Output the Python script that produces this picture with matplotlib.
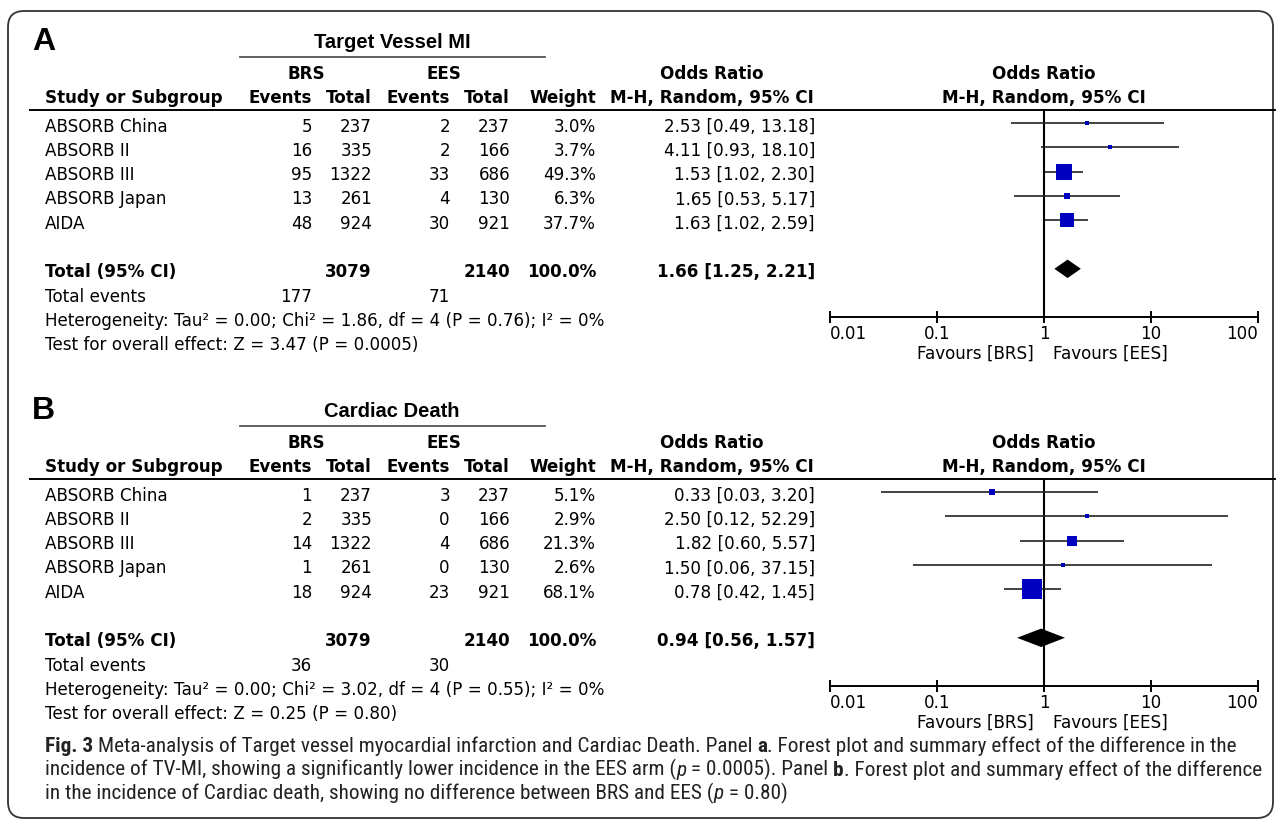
"""Forest plots (RevMan style) for TV-MI and cardiac death, BRS vs EES."""
import matplotlib
matplotlib.use("Agg")
import matplotlib.pyplot as plt
from matplotlib.patches import FancyBboxPatch

W, H = 1281, 824

# ---- data -------------------------------------------------------------
studies = ["ABSORB China", "ABSORB II", "ABSORB III", "ABSORB Japan", "AIDA"]

tvmi_brs_events = [5, 16, 95, 13, 48]
tvmi_brs_total = [237, 335, 1322, 261, 924]
tvmi_ees_events = [2, 2, 33, 4, 30]
tvmi_ees_total = [237, 166, 686, 130, 921]
tvmi_weight = [3.0, 3.7, 49.3, 6.3, 37.7]
tvmi_or = [2.53, 4.11, 1.53, 1.65, 1.63]
tvmi_lo = [0.49, 0.93, 1.02, 0.53, 1.02]
tvmi_hi = [13.18, 18.10, 2.30, 5.17, 2.59]
tvmi_pooled = [1.66, 1.25, 2.21]
tvmi_sum_total = [3079, 2140]
tvmi_sum_events = [177, 71]
tvmi_het = "Heterogeneity: Tau² = 0.00; Chi² = 1.86, df = 4 (P = 0.76); I² = 0%"
tvmi_test = "Test for overall effect: Z = 3.47 (P = 0.0005)"

cd_brs_events = [1, 2, 14, 1, 18]
cd_brs_total = [237, 335, 1322, 261, 924]
cd_ees_events = [3, 0, 4, 0, 23]
cd_ees_total = [237, 166, 686, 130, 921]
cd_weight = [5.1, 2.9, 21.3, 2.6, 68.1]
cd_or = [0.33, 2.50, 1.82, 1.50, 0.78]
cd_lo = [0.03, 0.12, 0.60, 0.06, 0.42]
cd_hi = [3.20, 52.29, 5.57, 37.15, 1.45]
cd_pooled = [0.94, 0.56, 1.57]
cd_sum_total = [3079, 2140]
cd_sum_events = [36, 30]
cd_het = "Heterogeneity: Tau² = 0.00; Chi² = 3.02, df = 4 (P = 0.55); I² = 0%"
cd_test = "Test for overall effect: Z = 0.25 (P = 0.80)"

or_ticks = [0.01, 0.1, 1, 10, 100]
or_ticklabels = ["0.01", "0.1", "1", "10", "100"]

caption_lines = [
    [("Fig. 3", "bold", True),
     ("Meta-analysis of Target vessel myocardial infarction and Cardiac Death. Panel", "normal", True),
     ("a", "bold", False),
     (". Forest plot and summary effect of the difference in the", "normal", False)],
    [("incidence of TV-MI, showing a significantly lower incidence in the EES arm (", "normal", False),
     ("p", "italic", False),
     (" = 0.0005). Panel", "normal", True),
     ("b", "bold", False),
     (". Forest plot and summary effect of the difference", "normal", False)],
    [("in the incidence of Cardiac death, showing no difference between BRS and EES (", "normal", False),
     ("p", "italic", False),
     (" = 0.80)", "normal", False)],
]

# ---- layout (pixels) --------------------------------------------------
TABLE_FONT = "DejaVu Sans"
HEAD_FONT = "Liberation Sans"
CAP_FONT = ["Roboto Condensed", "Liberation Sans Narrow", "Roboto", "DejaVu Sans"]
FS = 12.1

COL_NAME = 45
COL_BRS_EV, COL_BRS_N = 312, 372
COL_EES_EV, COL_EES_N = 450, 510
COL_W = 596
COL_OR = 815
OR_HEAD_C = 712
F_LEFT, F_RIGHT, F_MID = 830, 1258, 1044
ROW0, ROW_H = 123, 24.3
BLUE = "#0000c0"

fig = plt.figure(figsize=(W / 100, H / 100), dpi=100)
ov = fig.add_axes([0, 0, 1, 1])
ov.set_xlim(0, W)
ov.set_ylim(H, 0)
ov.axis("off")


def put(x, y, s, ha="left", bold=False, size=FS, family=TABLE_FONT, color="black"):
    return ov.text(x, y, s, ha=ha, va="baseline", fontsize=size, family=family,
                   fontweight="bold" if bold else "normal", color=color)


def draw_panel(y0, letter, title, brs_ev, brs_n, ees_ev, ees_n, weight,
               est, lo, hi, pooled, sum_total, sum_events, het, test):
    def base(r):
        return y0 + ROW0 + ROW_H * r + 8.5

    put(32, y0 + 50, letter, bold=True, size=23, family=HEAD_FONT)
    put(392, y0 + 48, title, ha="center", bold=True, size=14.5, family=HEAD_FONT)
    ov.plot([240, 545], [y0 + 57, y0 + 57], color="#555555", lw=1.3)

    # column headers
    put(306, y0 + 79, "BRS", ha="center", bold=True)
    put(444, y0 + 79, "EES", ha="center", bold=True)
    put(OR_HEAD_C, y0 + 79, "Odds Ratio", ha="center", bold=True)
    put(F_MID, y0 + 79, "Odds Ratio", ha="center", bold=True)
    hy = y0 + 103
    put(COL_NAME, hy, "Study or Subgroup", bold=True)
    put(COL_BRS_EV, hy, "Events", ha="right", bold=True)
    put(COL_BRS_N, hy, "Total", ha="right", bold=True)
    put(COL_EES_EV, hy, "Events", ha="right", bold=True)
    put(COL_EES_N, hy, "Total", ha="right", bold=True)
    put(COL_W, hy, "Weight", ha="right", bold=True)
    put(OR_HEAD_C, hy, "M-H, Random, 95% CI", ha="center", bold=True)
    put(F_MID, hy, "M-H, Random, 95% CI", ha="center", bold=True)
    ov.plot([30, 1275], [y0 + 110, y0 + 110], color="black", lw=1.4)

    # study rows
    for i, name in enumerate(studies):
        y = base(i)
        put(COL_NAME, y, name)
        put(COL_BRS_EV, y, str(brs_ev[i]), ha="right")
        put(COL_BRS_N, y, str(brs_n[i]), ha="right")
        put(COL_EES_EV, y, str(ees_ev[i]), ha="right")
        put(COL_EES_N, y, str(ees_n[i]), ha="right")
        put(COL_W, y, f"{weight[i]:.1f}%", ha="right")
        put(COL_OR, y, f"{est[i]:.2f} [{lo[i]:.2f}, {hi[i]:.2f}]", ha="right")

    y = base(6)
    put(COL_NAME, y, "Total (95% CI)", bold=True)
    put(COL_BRS_N, y, str(sum_total[0]), ha="right", bold=True)
    put(COL_EES_N, y, str(sum_total[1]), ha="right", bold=True)
    put(COL_W, y, "100.0%", ha="right", bold=True)
    put(COL_OR, y, f"{pooled[0]:.2f} [{pooled[1]:.2f}, {pooled[2]:.2f}]", ha="right", bold=True)
    y = base(7)
    put(COL_NAME, y, "Total events")
    put(COL_BRS_EV, y, str(sum_events[0]), ha="right")
    put(COL_EES_EV, y, str(sum_events[1]), ha="right")
    put(COL_NAME, base(8), het)
    put(COL_NAME, base(9), test)

    # forest plot axes: x = odds ratio (log), y = row index
    top_px, bot_px = y0 + 110, y0 + 317
    ax = fig.add_axes([F_LEFT / W, 1 - bot_px / H, (F_RIGHT - F_LEFT) / W, (bot_px - top_px) / H])
    ax.set_xscale("log")
    ax.set_xlim(or_ticks[0], or_ticks[-1])
    ax.set_ylim((bot_px - y0 - ROW0) / ROW_H, (top_px - y0 - ROW0) / ROW_H)
    ax.patch.set_visible(False)
    for s in ("top", "left", "right"):
        ax.spines[s].set_visible(False)
    ax.spines["bottom"].set_linewidth(1.4)
    ax.set_yticks([])
    ax.set_xticks(or_ticks)
    labels = ax.set_xticklabels(or_ticklabels, family=TABLE_FONT, fontsize=FS)
    labels[0].set_ha("left")
    labels[-1].set_ha("right")
    ax.minorticks_off()
    ax.tick_params(axis="x", direction="inout", length=8, width=1.4, pad=2)
    ax.axvline(1, color="black", lw=1.5, zorder=1)

    rows = list(range(len(studies)))
    ax.hlines(rows, lo, hi, color="#222222", lw=1.2, zorder=2)
    for r, e, w in zip(rows, est, weight):
        side_px = 2.35 * w ** 0.5
        ax.plot(e, r, "s", ms=side_px * 0.72, color=BLUE, mew=0, zorder=3)
    pr = 6
    ax.fill([pooled[1], pooled[0], pooled[2], pooled[0]],
            [pr, pr - 0.38, pr, pr + 0.38], color="black", lw=0, zorder=3)

    put(F_MID - 10, y0 + 359, "Favours [BRS]", ha="right")
    put(F_MID + 9, y0 + 359, "Favours [EES]", ha="left")


draw_panel(0, "A", "Target Vessel MI", tvmi_brs_events, tvmi_brs_total,
           tvmi_ees_events, tvmi_ees_total, tvmi_weight, tvmi_or, tvmi_lo, tvmi_hi,
           tvmi_pooled, tvmi_sum_total, tvmi_sum_events, tvmi_het, tvmi_test)
draw_panel(369, "B", "Cardiac Death", cd_brs_events, cd_brs_total,
           cd_ees_events, cd_ees_total, cd_weight, cd_or, cd_lo, cd_hi,
           cd_pooled, cd_sum_total, cd_sum_events, cd_het, cd_test)

# outer rounded frame
ov.add_patch(FancyBboxPatch((8, 11), 1265, 807, boxstyle="round,pad=0,rounding_size=16",
                            fc="none", ec="#333333", lw=1.3))

# caption with mixed bold / italic runs, sized so the longest line fits the frame
renderer = fig.canvas.get_renderer()


def kind_kw(kind):
    if kind == "bold":
        return {"fontweight": "bold"}
    if kind == "italic":
        return {"fontstyle": "italic"}
    return {}


def run_width(s, size, kind="normal"):
    t = ov.text(0, 0, s, fontsize=size, family=CAP_FONT, **kind_kw(kind))
    w = t.get_window_extent(renderer).width
    t.remove()
    return w


def line_width(line, size):
    sp = run_width("a a", size) - run_width("aa", size)
    return sum(run_width(s, size, k) + (sp if g else 0) for s, k, g in line)


cap_fs = 12.0
cap_fs *= (1260 - COL_NAME) / max(line_width(ln, cap_fs) for ln in caption_lines)
space_w = run_width("a a", cap_fs) - run_width("aa", cap_fs)
for k, line in enumerate(caption_lines):
    x = COL_NAME
    y = 752 + 23.5 * k
    for s, kind, gap in line:
        t = ov.text(x, y, s, va="baseline", fontsize=cap_fs, family=CAP_FONT,
                    color="#222222", **kind_kw(kind))
        x += t.get_window_extent(renderer).width + (space_w if gap else 0)

fig.savefig("out.png", dpi=100)
